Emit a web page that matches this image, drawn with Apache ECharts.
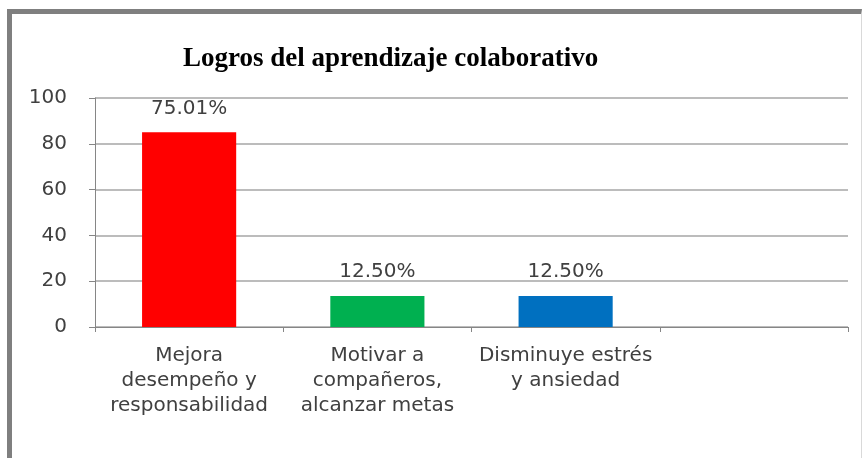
<!DOCTYPE html>
<html>
<head>
<meta charset="utf-8">
<script src="https://cdn.jsdelivr.net/npm/echarts@6/dist/echarts.min.js"></script>
<style>
  html, body { margin: 0; padding: 0; background: #ffffff; }
  #chart { position: absolute; left: 0; top: 0; width: 868px; height: 458px; }
  #frame { position: absolute; left: 7px; top: 9px; width: 849px; height: 444px;
           border-top: 5px solid #7f7f7f; border-left: 5px solid #7f7f7f;
           border-right: 1px solid #d9d9d9; border-bottom: 2px solid #bfbfbf;
           pointer-events: none; }
</style>
</head>
<body>
<div id="chart"></div>
<div id="frame"></div>
<script>
const titleText = 'Logros del aprendizaje colaborativo';
const categories = [
  'Mejora\ndesempeño y\nresponsabilidad',
  'Motivar a\ncompañeros,\nalcanzar metas',
  'Disminuye estrés\ny ansiedad',
  ''
];
const values = [85, 13.5, 13.5, null];
const labelTexts = ['75.01%', '12.50%', '12.50%', ''];
const barColors = ['#ff0000', '#00b050', '#0070c0', '#ffffff'];
const yTicks = { min: 0, max: 100, interval: 20 };

const chart = echarts.init(document.getElementById('chart'), null, { renderer: 'canvas' });
const font = 'DejaVu Sans';
chart.setOption({
  backgroundColor: '#ffffff',
  animation: false,
  title: {
    text: titleText,
    left: 178,
    top: 41,
    textStyle: { fontFamily: 'Liberation Serif', fontWeight: 'bold', fontSize: 27, color: '#000000' }
  },
  grid: { left: 95, right: 20, top: 98, bottom: 131, containLabel: false },
  xAxis: {
    type: 'category',
    data: categories,
    axisLine: { show: true, lineStyle: { color: '#868686', width: 1 } },
    axisTick: { show: true, alignWithLabel: false, interval: 0, length: 5, lineStyle: { color: '#868686' } },
    axisLabel: { interval: 0, margin: 16, fontFamily: font, fontSize: 20, lineHeight: 25, color: '#404040' }
  },
  yAxis: {
    type: 'value',
    min: yTicks.min, max: yTicks.max, interval: yTicks.interval,
    axisLine: { show: true, lineStyle: { color: '#868686', width: 1 } },
    axisTick: { show: true, length: 6, lineStyle: { color: '#868686' } },
    axisLabel: { margin: 28, fontFamily: font, fontSize: 20, color: '#404040' },
    splitLine: { show: true, lineStyle: { color: '#a6a6a6', width: 1.5 } }
  },
  series: [{
    type: 'bar',
    data: values.map((v, i) => ({ value: v, itemStyle: { color: barColors[i] } })),
    barWidth: '50%',
    label: {
      show: true,
      position: 'top',
      distance: 14,
      fontFamily: font,
      fontSize: 20,
      color: '#404040',
      formatter: p => labelTexts[p.dataIndex]
    }
  }]
});
</script>
</body>
</html>
